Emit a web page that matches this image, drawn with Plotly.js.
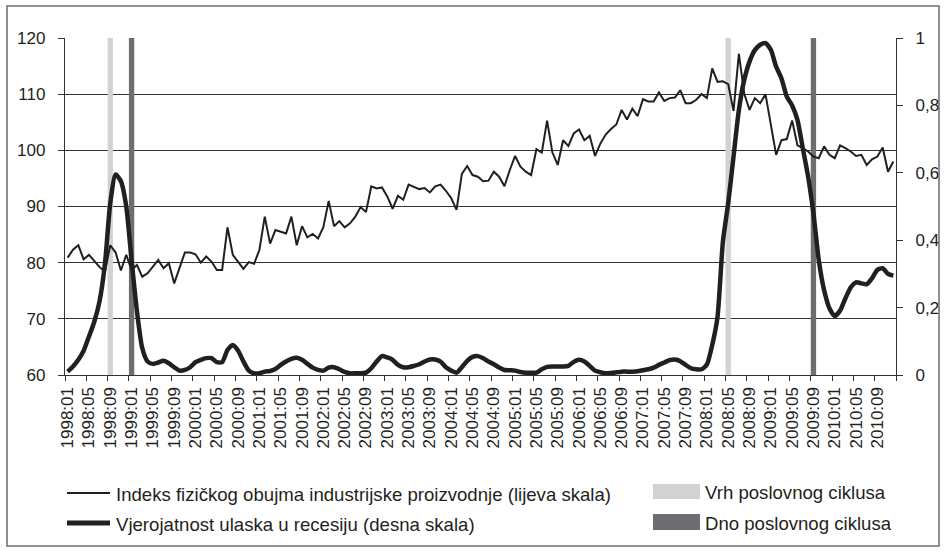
<!DOCTYPE html>
<html>
<head>
<meta charset="utf-8">
<script src="https://cdn.plot.ly/plotly-3.0.1.min.js"></script>
<style>html,body{margin:0;padding:0;background:#fff;}#chart{width:946px;height:552px;}</style>
</head>
<body>
<div id="chart"></div>
<script>
// ---- data ----
var years = [1998,1999,2000,2001,2002,2003,2004,2005,2006,2007,2008,2009,2010];
var monthCodes = ["01","02","03","04","05","06","07","08","09","10","11","12"];
var categories = [];
years.forEach(function(y){ monthCodes.forEach(function(m){ categories.push(y + ":" + m); }); });

var indexValues = [
 80.9,82.3,83.1,80.6,81.4,80.3,79.2,78.4,83.1,81.8,78.6,81.4,
 78.7,79.6,77.5,78.1,79.2,80.5,79.0,79.9,76.3,79.0,81.8,81.8,
 81.5,80.0,81.1,80.2,78.7,78.7,86.3,81.4,80.2,78.9,80.1,79.8,
 82.3,88.2,83.4,85.8,85.5,85.2,88.2,83.1,86.5,84.5,85.1,84.3,
 86.3,91.0,86.5,87.4,86.3,87.0,88.2,89.9,89.0,93.6,93.2,93.4,
 91.8,89.6,91.9,91.2,93.9,93.5,93.1,93.3,92.5,93.6,93.9,92.8,
 91.5,89.4,95.8,97.2,95.6,95.3,94.5,94.6,96.2,95.3,93.6,96.5,
 99.0,97.1,96.2,95.6,100.2,99.6,105.3,99.6,97.4,101.8,100.8,103.0,
 103.7,101.8,102.6,99.0,101.2,102.8,103.8,104.6,107.2,105.5,107.4,106.1,
 109.1,108.7,108.7,110.3,108.8,109.3,109.4,110.7,108.4,108.4,109.0,110.0,
 109.3,114.6,112.2,112.3,111.8,107.0,117.2,110.1,107.2,109.3,108.4,110.0,
 104.5,99.2,101.8,102.0,105.3,100.9,100.4,99.8,98.9,98.6,100.7,99.2,
 98.6,100.9,100.4,99.8,99.0,99.2,97.4,98.4,98.9,100.5,96.2,98.0
];

var probValues = [
 0.010,0.025,0.045,0.072,0.114,0.158,0.220,0.330,0.510,0.595,0.575,0.500,
 0.340,0.190,0.080,0.040,0.033,0.037,0.042,0.035,0.023,0.013,0.015,0.023,
 0.038,0.045,0.050,0.050,0.038,0.038,0.074,0.089,0.072,0.040,0.013,0.005,
 0.005,0.010,0.012,0.018,0.030,0.040,0.048,0.051,0.045,0.033,0.022,0.015,
 0.013,0.022,0.023,0.017,0.009,0.005,0.005,0.005,0.007,0.020,0.040,0.056,
 0.052,0.045,0.030,0.023,0.023,0.027,0.032,0.040,0.046,0.046,0.040,0.023,
 0.013,0.007,0.023,0.042,0.054,0.056,0.050,0.040,0.032,0.022,0.015,0.014,
 0.013,0.009,0.007,0.007,0.007,0.017,0.024,0.025,0.025,0.025,0.027,0.039,
 0.045,0.040,0.027,0.013,0.008,0.005,0.006,0.008,0.010,0.010,0.010,0.011,
 0.014,0.017,0.022,0.030,0.037,0.044,0.046,0.041,0.030,0.020,0.017,0.017,
 0.031,0.089,0.173,0.395,0.510,0.648,0.786,0.875,0.930,0.964,0.980,0.985,
 0.965,0.915,0.880,0.826,0.800,0.757,0.673,0.589,0.480,0.341,0.252,0.198,
 0.175,0.191,0.227,0.260,0.275,0.272,0.269,0.287,0.312,0.317,0.300,0.295
];

var peakMonths = ["1998:09", "2008:05"];
var troughMonths = ["1999:01", "2009:09"];
var leftTop = 120;

var seriesNames = [
 "Indeks fizičkog obujma industrijske proizvodnje (lijeva skala)",
 "Vjerojatnost ulaska u recesiju (desna skala)",
 "Vrh poslovnog ciklusa",
 "Dno poslovnog ciklusa"
];

// ---- styles ----
var INK = "#231f20";
var LIGHT = "#d1d2d4";
var DARK = "#6d6e71";
var FONT = "Liberation Sans, Arial, sans-serif";

var traces = [
 {type:"bar", x:peakMonths, y:peakMonths.map(function(){return leftTop;}), name:seriesNames[2],
  marker:{color:LIGHT, line:{width:0}}, width:1, xaxis:"x", yaxis:"y", hoverinfo:"skip"},
 {type:"bar", x:troughMonths, y:troughMonths.map(function(){return leftTop;}), name:seriesNames[3],
  marker:{color:DARK, line:{width:0}}, width:1, xaxis:"x", yaxis:"y", hoverinfo:"skip"},
 {type:"scatter", mode:"lines", x:categories, y:indexValues, name:seriesNames[0],
  line:{color:INK, width:2}, xaxis:"x", yaxis:"y"},
 {type:"scatter", mode:"lines", x:categories, y:probValues, name:seriesNames[1],
  line:{color:INK, width:4.5, shape:"spline", smoothing:0.6}, xaxis:"x", yaxis:"y2"}
];

function px2x(px){ return (px - 65) / 831; }
function py2y(py){ return (375 - py) / 337; }

var shapes = [
 // outer frame
 {type:"rect", xref:"paper", yref:"paper", x0:px2x(7), x1:px2x(939), y0:py2y(546), y1:py2y(6),
  line:{color:"#6b6b6b", width:1.5}, fillcolor:"rgba(0,0,0,0)"},
 // legend samples
 {type:"line", xref:"paper", yref:"paper", x0:px2x(67), x1:px2x(110), y0:py2y(493), y1:py2y(493),
  line:{color:INK, width:2}},
 {type:"line", xref:"paper", yref:"paper", x0:px2x(67), x1:px2x(110), y0:py2y(523), y1:py2y(523),
  line:{color:INK, width:5}},
 {type:"rect", xref:"paper", yref:"paper", x0:px2x(653), x1:px2x(700), y0:py2y(499), y1:py2y(484),
  line:{width:0}, fillcolor:LIGHT},
 {type:"rect", xref:"paper", yref:"paper", x0:px2x(653), x1:px2x(700), y0:py2y(530), y1:py2y(514),
  line:{width:0}, fillcolor:DARK}
];

function legText(txt, px, py){
  return {xref:"paper", yref:"paper", x:px2x(px), y:py2y(py), xanchor:"left", yanchor:"middle",
          text:txt, showarrow:false, font:{family:FONT, size:18.6, color:INK}, borderpad:0};
}
var annotations = [
 legText(seriesNames[0], 115, 494),
 legText(seriesNames[1], 115, 524),
 legText(seriesNames[2], 704, 493),
 legText(seriesNames[3], 704, 523)
];

var layout = {
  width:946, height:552,
  margin:{l:65, r:50, t:38, b:177, pad:0},
  paper_bgcolor:"#fff", plot_bgcolor:"#fff",
  font:{family:FONT, size:17, color:INK},
  separators:",.",
  showlegend:false,
  barmode:"overlay",
  xaxis:{type:"category", categoryorder:"array", categoryarray:categories,
         range:[-0.5, categories.length - 0.5],
         tickmode:"linear", tick0:0, dtick:4, tickson:"boundaries",
         tickangle:-90, ticks:"outside", ticklen:5, tickwidth:1, tickcolor:"#333",
         showline:true, linecolor:"#333", linewidth:1.2, showgrid:false, zeroline:false,
         ticklabelstandoff:4, tickfont:{size:17}},
  yaxis:{range:[60,120], tickmode:"linear", tick0:60, dtick:10,
         showgrid:true, gridcolor:"#333333", gridwidth:1.3,
         showline:true, linecolor:"#333", linewidth:1.2,
         ticks:"outside", ticklen:6, tickcolor:"#333", zeroline:false, ticklabelstandoff:9},
  yaxis2:{range:[0,1], overlaying:"y", side:"right", tickmode:"array",
          tickvals:[0,0.2,0.4,0.6,0.8,1], showgrid:false, zeroline:false,
          showline:true, linecolor:"#333", linewidth:1.2,
          ticks:"outside", ticklen:6, tickcolor:"#333", ticklabelstandoff:9},
  shapes:shapes,
  annotations:annotations
};

Plotly.newPlot("chart", traces, layout, {displayModeBar:false, staticPlot:true});
</script>
</body>
</html>
